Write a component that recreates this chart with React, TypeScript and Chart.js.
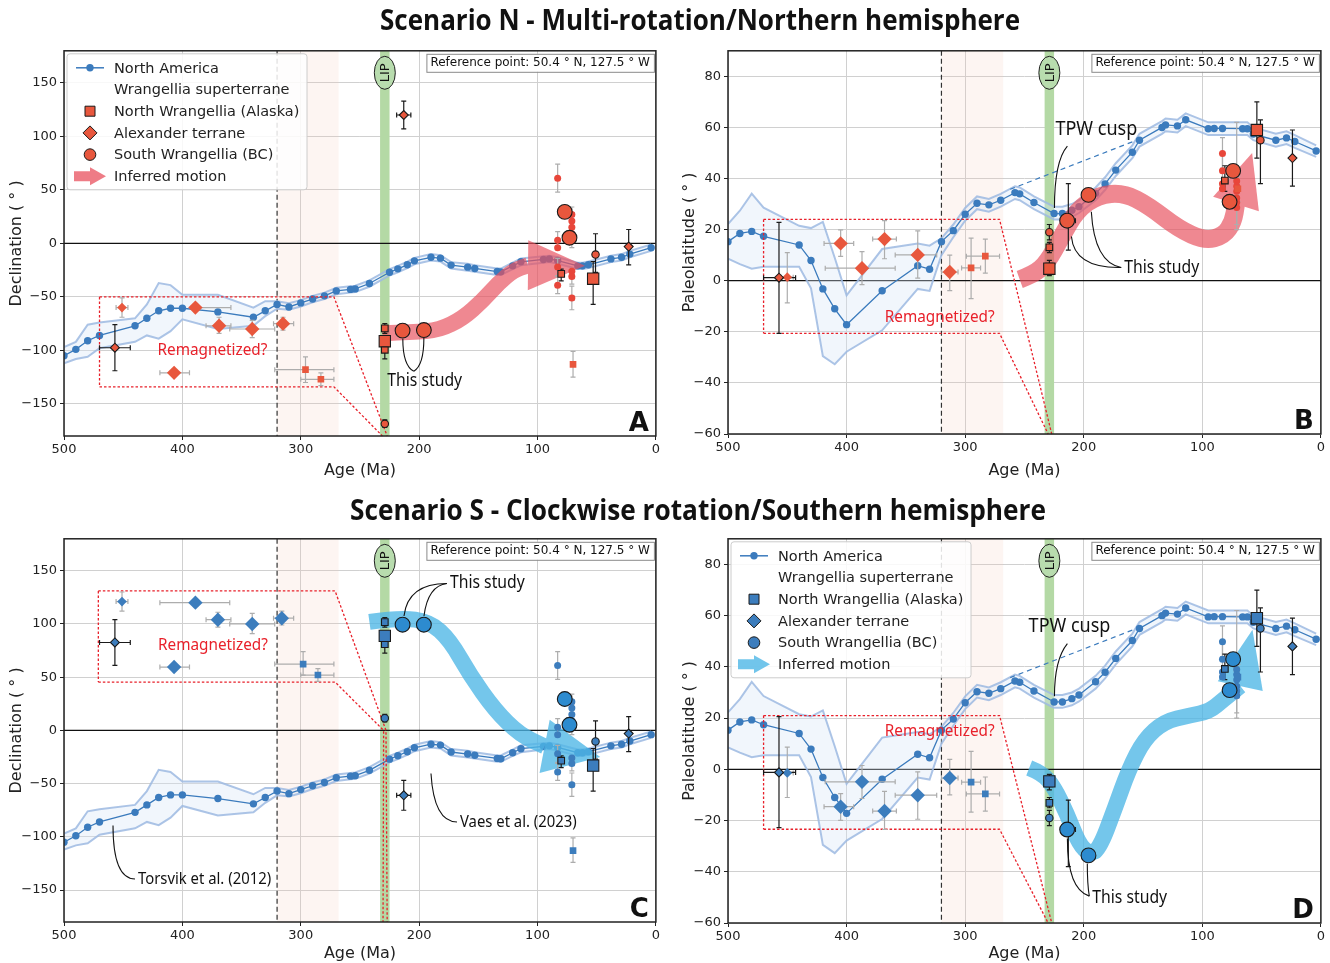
import React, { useEffect, useRef } from 'react';
import { Chart, registerables } from 'chart.js';

Chart.register(...registerables);

type Row = number[]; // [age, value, ageMin, ageMax, valueMin, valueMax]

// ---------------- North America APWP ----------------
const NA_AGE = [500, 490, 480, 470, 440, 430, 420, 410, 400, 370, 340, 330, 320, 310, 300, 290, 280, 270, 258, 254, 242, 225, 218, 210, 204, 190, 182, 173, 159, 153, 134, 131, 121, 114, 95, 90, 83, 66, 62, 57, 38, 29, 22, 4];
const NA_DEC = [-105, -99, -91, -86, -77, -70, -63, -60.6, -60.6, -64, -69, -63, -57, -59.4, -55.6, -52, -49, -44.4, -43, -42.5, -37.5, -27, -23.8, -20, -16.3, -13, -13.8, -20.3, -22.2, -23.4, -26.3, -26.6, -21, -17.2, -15, -14.5, -16, -21, -21, -20, -14.5, -13, -10, -4];
const NA_DEC_HI = [-97, -92, -76, -74, -70, -57, -37, -39, -48, -48, -60, -54, -54, -56, -53, -49, -46, -41.5, -40, -39.5, -34.5, -24, -21, -17, -13.5, -10, -11, -17.5, -19, -20.5, -23.5, -23.5, -18, -14, -12, -11.5, -13, -18, -18, -17, -11.5, -10, -7, -1];
const NA_DEC_LO = [-112, -108, -106, -98, -92, -86, -89, -82, -71, -80, -77, -68, -61, -62, -59, -55, -52, -47.5, -46, -45.5, -40.5, -30, -27, -23, -19.5, -16, -17, -23.5, -25.5, -26.5, -29.5, -29.5, -24, -20.5, -18, -17.5, -19, -24, -24, -23, -17.5, -16, -13, -7];
const NA_LAT = [15.3, 18.5, 19.3, 17.4, 14, 7.9, -3.2, -11, -17.2, -3.9, 5.9, 4.5, 15.3, 19.6, 26, 30.3, 29.7, 31.5, 34.5, 34, 30.6, 26.3, 26.3, 27.6, 29, 34.2, 37.9, 43.3, 50.3, 55, 60, 61, 60.6, 63, 59.5, 59.6, 59.6, 59.5, 59.5, 57.4, 55, 55.9, 54.5, 50.8];
const NA_LAT_HI = [22.2, 27.4, 34.1, 28.6, 21.5, 20.6, 23, 9, -5.7, 12.4, 14.6, 13.7, 16.6, 22, 28.5, 33, 32, 34, 37, 36.5, 33, 29, 29, 30, 31.5, 36.5, 40.5, 46, 53, 57.5, 62.5, 63.5, 63, 65.5, 62, 62, 62, 62, 62, 60, 57.5, 58.5, 57, 53];
const NA_LAT_LO = [8.6, 6.5, 4.7, 5.5, 5.5, -3, -29.5, -32.7, -27.8, -19.4, -3.2, -4, 10, 17, 23.5, 28, 27, 29, 32, 31.5, 28, 24, 24, 25, 26.5, 31.5, 35.5, 41, 48, 52.5, 57.5, 58.5, 58, 60.5, 57, 57, 57, 57, 57, 55, 52.5, 53.5, 52, 48.5];
const TPW_DASH_AGE = [262, 156];
const TPW_DASH_LAT = [35.8, 54.9];

const AGE_TICKS = [0, 100, 200, 300, 400, 500];
const DEC_TICKS = [-150, -100, -50, 0, 50, 100, 150];
const LAT_TICKS = [-60, -40, -20, 0, 20, 40, 60, 80];
const PINK_BAND = [320, 268];
const LIP_BAND = [233, 225];
const LIP_AGE = 229;
const BOUNDARY_AGE = 320;

// ---------------- Scenario N : declination (A) ----------------
const A_CIRCLE_LG: Row[] = [[214, -81.5], [196, -81], [77, 29.5], [73, 5.3]];
const A_SQUARE_LG: Row[] = [[229, -91.4], [53, -33, 53, 53, -57, -17]];
const A_CIRCLE_EDGE: Row[] = [[229, -168.6, 229, 229, -172, -165], [51, -10.4, 51, 51, -27, 9]];
const A_SQUARE_EDGE: Row[] = [[229, -79.4, 229, 229, -84, -75], [229, -99.4, 229, 229, -108, -94], [80, -28.5, 80, 80, -35, -24]];
const A_DIAMOND_EDGE: Row[] = [[457, -97.5, 470, 444, -119, -76], [213, 120, 219, 207, 107, 133], [23, -3, 23, 23, -20, 13]];
const A_DIAMOND_LG: Row[] = [[389, -60, 389, 359], [369, -77, 380, 359, -84, -69], [341, -80, 360, 322, -88, -72], [315, -75, 323, 306, -81, -69], [407, -121, 419, 394]];
const A_DIAMOND_SM: Row[] = [[451, -60, 456, 446, -69, -51]];
const A_SQUARE_SM: Row[] = [[296, -118, 322, 272, -130, -106], [283, -127, 300, 272, -133, -121], [70, -113, 70, 70, -125, -101]];
const A_CIRCLE_SM: Row[] = [[83, 61, 83, 83, 48, 74], [83, 3, 83, 83, -5, 11], [83, -4], [83, -22, 83, 83, -30, -14], [83, -39, 83, 83, -47, -31], [71, 27, 69, 73, 20, 34], [71, 21], [71, 15], [71, 9], [71, 3, 69, 73, -4, 10], [71, -26], [71, -31, 69, 73, -38, -24], [71, -51, 69, 73, -62, -40]];

// ---------------- Scenario N : paleolatitude (B) ----------------
const B_CIRCLE_LG: Row[] = [[214, 23.5], [196, 33.6], [77, 30.9], [74, 43]];
const B_SQUARE_LG: Row[] = [[229, 4.7], [54, 59, 54, 54, 48, 70]];
const B_CIRCLE_EDGE: Row[] = [[229, 19, 229, 229, 16, 22], [51, 55, 51, 51, 38, 63]];
const B_SQUARE_EDGE: Row[] = [[229, 13.1, 229, 229, 11, 15], [229, 5.5, 229, 229, 2, 8], [81, 39.2, 81, 81, 35, 45]];
const B_DIAMOND_EDGE: Row[] = [[457, 1.2, 470, 443, -20.6, 22.8], [213, 23.5, 219, 207, 12, 38], [24, 48, 24, 24, 37, 59]];
const B_DIAMOND_LG: Row[] = [[405, 14.6, 419, 394, 9.5, 19.9], [387, 4.9, 418, 359, -1.5, 11.4], [368, 16.3, 378, 358, 8.6, 23.5], [340, 10.1, 359, 324, 1, 19.5], [313, 3.4, 320, 306, -3.9, 10]];
const B_DIAMOND_SM: Row[] = [[450, 1.4, 455, 445, -8.7, 11]];
const B_SQUARE_SM: Row[] = [[295, 5, 303, 287, -7, 16.7], [283, 9.6, 299, 271, 3, 16.3], [70, 36, 70, 70, 31, 41]];
const B_CIRCLE_SM: Row[] = [[83, 49.8, 83, 83, 44, 56], [83, 43, 83, 83, 36, 50], [83, 38], [83, 36], [71, 39, 69, 73, 20, 62], [71, 37], [71, 35], [71, 32.4], [71, 30.6], [71, 28.7, 69, 73, 22, 36]];

// ---------------- Scenario S : declination (C) ----------------
const C_CIRCLE_LG: Row[] = [[214, 99.3], [196, 99.3], [77, 29.5], [73, 5.3]];
const C_SQUARE_LG: Row[] = [[229, 88.8], [53, -33, 53, 53, -57, -17]];
const C_CIRCLE_EDGE: Row[] = [[229, 11.4, 229, 229, 8, 15], [51, -10.4, 51, 51, -27, 9]];
const C_SQUARE_EDGE: Row[] = [[229, 101.7, 229, 229, 97, 106], [229, 81, 229, 229, 72.6, 86], [80, -28.5, 80, 80, -35, -24]];
const C_DIAMOND_EDGE: Row[] = [[457, 82.6, 470, 444, 61, 104], [213, -61, 219, 207, -75, -47], [23, -3, 23, 23, -20, 13]];
const C_DIAMOND_LG: Row[] = [[389, 120, 419, 360], [370, 104, 380, 359, 97, 111], [341, 100, 360, 322, 91, 110], [316, 105.4, 323, 306, 99, 112], [407, 59.5, 419, 394]];
const C_DIAMOND_SM: Row[] = [[451, 121, 456, 446, 112, 130]];
const C_SQUARE_SM: Row[] = [[298, 62.3, 322, 272, 52, 74], [285.5, 52, 300, 272, 46, 58], [70, -113, 70, 70, -124, -101]];
const C_CIRCLE_SM: Row[] = [[83, 61, 83, 83, 48, 74], [83, 3, 83, 83, -5, 11], [83, -4], [83, -22, 83, 83, -30, -14], [83, -39, 83, 83, -47, -31], [71, 27, 69, 73, 20, 34], [71, 21], [71, 15], [71, 9], [71, 3, 69, 73, -4, 10], [71, -26], [71, -31, 69, 73, -38, -24], [71, -51, 69, 73, -62, -40]];

// ---------------- Scenario S : paleolatitude (D) ----------------
const D_CIRCLE_LG: Row[] = [[214, -23.5], [196, -33.6], [77, 30.9], [74, 43]];
const D_SQUARE_LG: Row[] = [[229, -4.7], [54, 59, 54, 54, 48, 70]];
const D_CIRCLE_EDGE: Row[] = [[229, -19, 229, 229, -22, -16], [51, 55, 51, 51, 38, 63]];
const D_SQUARE_EDGE: Row[] = [[229, -13.1, 229, 229, -15, -11], [229, -5.5, 229, 229, -8, -2], [81, 39.2, 81, 81, 35, 45]];
const D_DIAMOND_EDGE: Row[] = [[457, -1.2, 470, 443, -22.8, 20.6], [213, -23.5, 219, 207, -38, -12], [24, 48, 24, 24, 37, 59]];
const D_DIAMOND_LG: Row[] = [[405, -14.6, 419, 394, -19.9, -9.5], [387, -4.9, 418, 359, -11.4, 1.5], [368, -16.3, 378, 358, -23.5, -8.6], [340, -10.1, 359, 324, -19.5, -1], [313, -3.4, 320, 306, -10, 3.9]];
const D_DIAMOND_SM: Row[] = [[450, -1.4, 455, 445, -11, 8.7]];
const D_SQUARE_SM: Row[] = [[295, -5, 303, 287, -16.7, 7], [283, -9.6, 299, 271, -16.3, -3], [70, 36, 70, 70, 31, 41]];
const D_CIRCLE_SM: Row[] = [[83, 49.8, 83, 83, 44, 56], [83, 43, 83, 83, 36, 50], [83, 38], [83, 36], [71, 39, 69, 73, 20, 62], [71, 37], [71, 35], [71, 32.4], [71, 30.6], [71, 28.7, 69, 73, 22, 36]];

// ---------------- Inferred motion paths ----------------
const ARROW_A_AGE = [231, 205, 183, 163, 146, 133, 120, 108];
const ARROW_A_VAL = [-84, -83, -81, -70, -53, -37, -25, -20.5];
const ARROW_A_TIP = [60, -21];
const ARROW_B_AGE = [254, 242, 231, 219, 206, 188, 166, 145, 120, 98, 82, 74, 71.6];
const ARROW_B_VAL = [0.5, 2.5, 7, 17, 27.5, 33.5, 34.4, 29.3, 20.3, 15.7, 17.6, 23, 30];
const ARROW_B_TIP = [58, 50];
const ARROW_C_AGE = [242, 216, 191, 174, 157, 136, 115, 94];
const ARROW_C_VAL = [102, 106, 102, 85, 52, 19, -4, -15];
const ARROW_C_TIP = [47, -25];
const ARROW_D_AGE = [246, 235, 225, 214, 204, 195, 187, 174, 162, 149, 132, 111, 94, 82, 68];
const ARROW_D_VAL = [0.5, -1.5, -7, -17.5, -29.2, -33.1, -31.2, -15.6, 0, 11.7, 18.7, 21, 22.6, 27.3, 32.5];
const ARROW_D_TIP = [57.7, 54.5];

const LEGEND_LABELS = ['North America', 'Wrangellia superterrane', 'North Wrangellia (Alaska)', 'Alexander terrane', 'South Wrangellia (BC)', 'Inferred motion'];
const TITLE_N = 'Scenario N - Multi-rotation/Northern hemisphere';
const TITLE_S = 'Scenario S - Clockwise rotation/Southern hemisphere';
const REF_TEXT = 'Reference point: 50.4 \u00b0 N, 127.5 \u00b0 W';

// ---------------- styles ----------------
const NA_COLOR = '#3b7bbd';
const BAND_EDGE = 'rgba(158,186,226,0.85)';
const BAND_FILL = 'rgba(214,228,246,0.35)';
const RED = '#e8573d';
const RED_YOUNG = '#e8463a';
const BLUE = '#3c7dbd';
const BLUE_BIG = '#2d8bcf';
const REMAG = '#e8202a';
const TICK_FONT = "'DejaVu Sans', sans-serif";
const ANNOT_FONT = "'Noto Sans', sans-serif";

const fmt = (v: number) => (v < 0 ? '\u2212' + Math.abs(v) : String(v));

function makeGroups(s: any, fill: string, young: string, big: string) {
  return [
    { rows: s.cirLg, shape: 'circle', r: 7.4, fill: big, edge: true },
    { rows: s.sqLg, shape: 'rect', r: 8, fill, edge: true },
    { rows: s.cirEdge, shape: 'circle', r: 3.7, fill, edge: true },
    { rows: s.sqEdge, shape: 'rect', r: 4.7, fill, edge: true },
    { rows: s.diaEdge, shape: 'rectRot', r: 4.5, fill, edge: true },
    { rows: s.diaLg, shape: 'rectRot', r: 7.2, fill, edge: false },
    { rows: s.diaSm, shape: 'rectRot', r: 4.8, fill, edge: false },
    { rows: s.sqSm, shape: 'rect', r: 4.7, fill, edge: false },
    { rows: s.cirSm, shape: 'circle', r: 3.5, fill: young, edge: false },
  ];
}

const PANELS: any[] = [
  {
    id: 'A', left: 0, top: 40, width: 665, height: 440, padTop: 10, padRight: 7, yWidth: 64, xHeight: 44, yTitlePad: 7,
    yMin: -180, yMax: 180, yTicks: DEC_TICKS, yTitle: 'Declination ( \u00b0 )', na: NA_DEC, naHi: NA_DEC_HI, naLo: NA_DEC_LO, dashed: false,
    groups: makeGroups({ cirLg: A_CIRCLE_LG, sqLg: A_SQUARE_LG, cirEdge: A_CIRCLE_EDGE, sqEdge: A_SQUARE_EDGE, diaEdge: A_DIAMOND_EDGE, diaLg: A_DIAMOND_LG, diaSm: A_DIAMOND_SM, sqSm: A_SQUARE_SM, cirSm: A_CIRCLE_SM }, RED, RED_YOUNG, RED),
    arrow: { ages: ARROW_A_AGE, vals: ARROW_A_VAL, tip: ARROW_A_TIP, shaftW: 16, headW: 50, color: '#e8505e', alpha: 0.68 },
    box: [[[470, -50], [272, -50], [227, -180]], [[470, -134], [272, -134], [231, -180]], [[470, -50], [470, -134]]],
    letter: 'A', legend: 'N',
    texts: [
      { t: 'This study', a: 195.3, v: -128.7, align: 'center', size: 17.5, color: '#111' },
      { t: 'Remagnetized?', a: 374.6, v: -99.8, align: 'center', size: 17, color: REMAG },
    ],
    leaders: [[[213.8, -89], [213.8, -114], [204.5, -119.5]], [[196, -88.5], [196, -114], [204.5, -119.5]]],
  },
  {
    id: 'B', left: 665, top: 40, width: 665, height: 440, padTop: 9, padRight: 8, yWidth: 63, xHeight: 46, yTitlePad: 15,
    yMin: -60, yMax: 90, yTicks: LAT_TICKS, yTitle: 'Paleolatitude ( \u00b0 )', na: NA_LAT, naHi: NA_LAT_HI, naLo: NA_LAT_LO, dashed: true,
    groups: makeGroups({ cirLg: B_CIRCLE_LG, sqLg: B_SQUARE_LG, cirEdge: B_CIRCLE_EDGE, sqEdge: B_SQUARE_EDGE, diaEdge: B_DIAMOND_EDGE, diaLg: B_DIAMOND_LG, diaSm: B_DIAMOND_SM, sqSm: B_SQUARE_SM, cirSm: B_CIRCLE_SM }, RED, RED_YOUNG, RED),
    arrow: { ages: ARROW_B_AGE, vals: ARROW_B_VAL, tip: ARROW_B_TIP, shaftW: 18, headW: 48, color: '#e8505e', alpha: 0.68 },
    box: [[[470, 24], [271, 24], [227, -60]], [[470, -20.6], [271, -20.6], [230, -60]], [[470, 24], [470, -20.6]]],
    letter: 'B', legend: null,
    texts: [
      { t: 'TPW cusp', a: 189.4, v: 59.3, align: 'center', size: 20, color: '#111' },
      { t: 'This study', a: 165.8, v: 4.8, align: 'left', size: 17.5, color: '#111' },
      { t: 'Remagnetized?', a: 321.5, v: -14.3, align: 'center', size: 17, color: REMAG },
    ],
    leaders: [[[213.8, 52.7], [224.7, 46.9], [224.7, 28.5]], [[168.4, 5.2], [207.9, 4.8], [210.4, 17.3]], [[168.4, 5.2], [191.1, 7.1], [193.6, 27]]],
  },
  {
    id: 'C', left: 0, top: 528, width: 665, height: 435, padTop: 10, padRight: 9, yWidth: 64, xHeight: 41, yTitlePad: 7,
    yMin: -180, yMax: 180, yTicks: DEC_TICKS, yTitle: 'Declination ( \u00b0 )', na: NA_DEC, naHi: NA_DEC_HI, naLo: NA_DEC_LO, dashed: false,
    groups: makeGroups({ cirLg: C_CIRCLE_LG, sqLg: C_SQUARE_LG, cirEdge: C_CIRCLE_EDGE, sqEdge: C_SQUARE_EDGE, diaEdge: C_DIAMOND_EDGE, diaLg: C_DIAMOND_LG, diaSm: C_DIAMOND_SM, sqSm: C_SQUARE_SM, cirSm: C_CIRCLE_SM }, BLUE, BLUE, BLUE_BIG),
    arrow: { ages: ARROW_C_AGE, vals: ARROW_C_VAL, tip: ARROW_C_TIP, shaftW: 16, headW: 54, color: '#4db6e6', alpha: 0.78 },
    box: [[[471, 131], [271, 131], [228, 0], [227, -180]], [[471, 45.4], [271, 45.4], [230, 0], [230.5, -180]], [[471, 131], [471, 45.4]]],
    letter: 'C', legend: null,
    texts: [
      { t: 'This study', a: 174, v: 138, align: 'left', size: 17.5, color: '#111' },
      { t: 'Vaes et al. (2023)', a: 165.5, v: -86, align: 'left', size: 16.5, color: '#111' },
      { t: 'Torsvik et al. (2012)', a: 437.5, v: -139.6, align: 'left', size: 16.5, color: '#111' },
      { t: 'Remagnetized?', a: 374.2, v: 80.3, align: 'center', size: 17, color: REMAG },
    ],
    leaders: [[[176.5, 138], [209.5, 138], [212.8, 107.5]], [[176.5, 138], [192.6, 136], [195.9, 107.5]], [[168, -86], [187.5, -86], [190, -40.5]], [[440, -139.6], [458.6, -139.6], [458.6, -89.4]]],
  },
  {
    id: 'D', left: 665, top: 528, width: 665, height: 435, padTop: 10, padRight: 8, yWidth: 63, xHeight: 40, yTitlePad: 15,
    yMin: -60, yMax: 90, yTicks: LAT_TICKS, yTitle: 'Paleolatitude ( \u00b0 )', na: NA_LAT, naHi: NA_LAT_HI, naLo: NA_LAT_LO, dashed: true,
    groups: makeGroups({ cirLg: D_CIRCLE_LG, sqLg: D_SQUARE_LG, cirEdge: D_CIRCLE_EDGE, sqEdge: D_SQUARE_EDGE, diaEdge: D_DIAMOND_EDGE, diaLg: D_DIAMOND_LG, diaSm: D_DIAMOND_SM, sqSm: D_SQUARE_SM, cirSm: D_CIRCLE_SM }, BLUE, BLUE, BLUE_BIG),
    arrow: { ages: ARROW_D_AGE, vals: ARROW_D_VAL, tip: ARROW_D_TIP, shaftW: 16, headW: 46, color: '#4db6e6', alpha: 0.78 },
    box: [[[470, 21], [271, 21], [227, -60]], [[470, -23.4], [271, -23.4], [230, -60]], [[470, 21], [470, -23.4]]],
    letter: 'D', legend: 'S',
    texts: [
      { t: 'TPW cusp', a: 212, v: 55.7, align: 'center', size: 20, color: '#111' },
      { t: 'This study', a: 192.8, v: -50.3, align: 'left', size: 17.5, color: '#111' },
      { t: 'Remagnetized?', a: 321.5, v: 15, align: 'center', size: 17, color: REMAG },
    ],
    leaders: [[[213.8, 49.1], [224.7, 42.9], [224.7, 28.5]], [[195.3, -49.5], [213.8, -46.8], [213.8, -27]], [[195.3, -49.5], [197, -45], [197, -36.8]]],
  },
];

// ---------------- drawing helpers ----------------
function P(chart: any, a: number, v: number): [number, number] {
  return [chart.scales.x.getPixelForValue(a), chart.scales.y.getPixelForValue(v)];
}

function smoothPath(ctx: CanvasRenderingContext2D, pts: number[][]) {
  ctx.moveTo(pts[0][0], pts[0][1]);
  for (let i = 1; i < pts.length - 1; i++) {
    const mx = (pts[i][0] + pts[i + 1][0]) / 2;
    const my = (pts[i][1] + pts[i + 1][1]) / 2;
    ctx.quadraticCurveTo(pts[i][0], pts[i][1], mx, my);
  }
  const l = pts[pts.length - 1];
  ctx.lineTo(l[0], l[1]);
}

function condText(ctx: any, text: string, x: number, y: number, size: number, color: string, align: string, sx = 0.9) {
  ctx.save();
  ctx.font = `${size}px ${ANNOT_FONT}`;
  ctx.fillStyle = color;
  ctx.textAlign = align;
  ctx.textBaseline = 'middle';
  ctx.translate(x, y);
  ctx.scale(sx, 1);
  ctx.fillText(text, 0, 0);
  ctx.restore();
}

function drawShape(ctx: any, kind: string, x: number, y: number, r: number, fill: string, stroke: string | null) {
  ctx.beginPath();
  if (kind === 'circle') ctx.arc(x, y, r, 0, Math.PI * 2);
  else if (kind === 'rect') ctx.rect(x - r, y - r, 2 * r, 2 * r);
  else {
    ctx.moveTo(x - r, y);
    ctx.lineTo(x, y - r);
    ctx.lineTo(x + r, y);
    ctx.lineTo(x, y + r);
    ctx.closePath();
  }
  ctx.fillStyle = fill;
  ctx.fill();
  if (stroke) {
    ctx.strokeStyle = stroke;
    ctx.lineWidth = 1;
    ctx.stroke();
  }
}

function drawArrow(chart: any, ar: any) {
  const off = document.createElement('canvas');
  off.width = chart.canvas.width;
  off.height = chart.canvas.height;
  const o = off.getContext('2d') as CanvasRenderingContext2D;
  const pts = ar.ages.map((a: number, i: number) => P(chart, a, ar.vals[i]));
  o.strokeStyle = ar.color;
  o.lineWidth = ar.shaftW;
  o.lineCap = 'butt';
  o.lineJoin = 'round';
  o.beginPath();
  smoothPath(o, pts);
  o.stroke();
  const base = pts[pts.length - 1];
  const tip = P(chart, ar.tip[0], ar.tip[1]);
  const dx = tip[0] - base[0];
  const dy = tip[1] - base[1];
  const L = Math.hypot(dx, dy);
  const nx = -dy / L;
  const ny = dx / L;
  const hw = ar.headW / 2;
  o.fillStyle = ar.color;
  o.beginPath();
  o.moveTo(base[0] + nx * hw, base[1] + ny * hw);
  o.lineTo(tip[0], tip[1]);
  o.lineTo(base[0] - nx * hw, base[1] - ny * hw);
  o.closePath();
  o.fill();
  const ctx = chart.ctx;
  ctx.save();
  ctx.setTransform(1, 0, 0, 1, 0, 0);
  ctx.globalAlpha = ar.alpha;
  ctx.drawImage(off, 0, 0);
  ctx.restore();
}

function drawErrors(chart: any, rows: Row[], color: string) {
  const ctx = chart.ctx;
  const xs = chart.scales.x;
  const ys = chart.scales.y;
  ctx.save();
  ctx.strokeStyle = color;
  ctx.lineWidth = 1.2;
  const cap = 2.5;
  rows.forEach((r) => {
    const x = xs.getPixelForValue(r[0]);
    const y = ys.getPixelForValue(r[1]);
    const a0 = r[2] ?? r[0];
    const a1 = r[3] ?? r[0];
    const v0 = r[4] ?? r[1];
    const v1 = r[5] ?? r[1];
    ctx.beginPath();
    if (a0 !== a1) {
      const x1 = xs.getPixelForValue(a0);
      const x2 = xs.getPixelForValue(a1);
      ctx.moveTo(x1, y); ctx.lineTo(x2, y);
      ctx.moveTo(x1, y - cap); ctx.lineTo(x1, y + cap);
      ctx.moveTo(x2, y - cap); ctx.lineTo(x2, y + cap);
    }
    if (v0 !== v1) {
      const y1 = ys.getPixelForValue(v0);
      const y2 = ys.getPixelForValue(v1);
      ctx.moveTo(x, y1); ctx.lineTo(x, y2);
      ctx.moveTo(x - cap, y1); ctx.lineTo(x + cap, y1);
      ctx.moveTo(x - cap, y2); ctx.lineTo(x + cap, y2);
    }
    ctx.stroke();
  });
  ctx.restore();
}

function drawLegend(ctx: any, ca: any, scen: string) {
  const x0 = ca.left + 3;
  const y0 = ca.top + 3;
  const w = 240;
  const h = 136;
  const mk = scen === 'N' ? RED : BLUE;
  const arrowCol = scen === 'N' ? 'rgba(232,80,94,0.75)' : 'rgba(77,182,230,0.8)';
  ctx.save();
  ctx.beginPath();
  ctx.roundRect(x0, y0, w, h, 3);
  ctx.fillStyle = 'rgba(255,255,255,0.85)';
  ctx.fill();
  ctx.strokeStyle = '#cccccc';
  ctx.lineWidth = 1;
  ctx.stroke();
  const rowY = (i: number) => y0 + 14 + i * 21.7;
  const sx = x0 + 23;
  ctx.strokeStyle = NA_COLOR;
  ctx.lineWidth = 1.5;
  ctx.beginPath();
  ctx.moveTo(sx - 14, rowY(0));
  ctx.lineTo(sx + 14, rowY(0));
  ctx.stroke();
  drawShape(ctx, 'circle', sx, rowY(0), 3.7, NA_COLOR, null);
  drawShape(ctx, 'rect', sx, rowY(2), 5, mk, '#1a1a1a');
  drawShape(ctx, 'diamond', sx, rowY(3), 7, mk, '#1a1a1a');
  drawShape(ctx, 'circle', sx, rowY(4), 5.8, mk, '#1a1a1a');
  const ay = rowY(5);
  ctx.fillStyle = arrowCol;
  ctx.beginPath();
  ctx.moveTo(x0 + 7, ay - 5);
  ctx.lineTo(x0 + 23, ay - 5);
  ctx.lineTo(x0 + 23, ay - 9);
  ctx.lineTo(x0 + 39, ay);
  ctx.lineTo(x0 + 23, ay + 9);
  ctx.lineTo(x0 + 23, ay + 5);
  ctx.lineTo(x0 + 7, ay + 5);
  ctx.closePath();
  ctx.fill();
  ctx.fillStyle = '#222';
  ctx.font = `14.5px ${TICK_FONT}`;
  ctx.textAlign = 'left';
  ctx.textBaseline = 'middle';
  LEGEND_LABELS.forEach((t, i) => ctx.fillText(t, x0 + 47, rowY(i) + 1));
  ctx.restore();
}

function makePlugin(cfg: any) {
  return {
    id: 'deco' + cfg.id,
    beforeDatasetsDraw(chart: any) {
      const ctx = chart.ctx;
      const ca = chart.chartArea;
      const xs = chart.scales.x;
      const ys = chart.scales.y;
      ctx.save();
      ctx.beginPath();
      ctx.rect(ca.left, ca.top, ca.right - ca.left, ca.bottom - ca.top);
      ctx.clip();
      const p1 = xs.getPixelForValue(PINK_BAND[0]);
      const p2 = xs.getPixelForValue(PINK_BAND[1]);
      ctx.fillStyle = 'rgba(245,200,185,0.18)';
      ctx.fillRect(p1, ca.top, p2 - p1, ca.bottom - ca.top);
      const l1 = xs.getPixelForValue(LIP_BAND[0]);
      const l2 = xs.getPixelForValue(LIP_BAND[1]);
      ctx.fillStyle = '#b4d9a5';
      ctx.fillRect(l1, ca.top, l2 - l1, ca.bottom - ca.top);
      const d = xs.getPixelForValue(BOUNDARY_AGE);
      ctx.strokeStyle = '#333';
      ctx.lineWidth = 1.2;
      ctx.setLineDash([5, 3]);
      ctx.beginPath();
      ctx.moveTo(d, ca.top);
      ctx.lineTo(d, ca.bottom);
      ctx.stroke();
      ctx.setLineDash([]);
      const z = ys.getPixelForValue(0);
      ctx.strokeStyle = '#111';
      ctx.lineWidth = 1.2;
      ctx.beginPath();
      ctx.moveTo(ca.left, z);
      ctx.lineTo(ca.right, z);
      ctx.stroke();
      ctx.restore();
    },
    afterDatasetDraw(chart: any, args: any) {
      if (!chart.data.datasets[args.index].isNA) return;
      const ctx = chart.ctx;
      ctx.save();
      ctx.strokeStyle = REMAG;
      ctx.lineWidth = 1.3;
      ctx.setLineDash([2.5, 2]);
      cfg.box.forEach((line: number[][]) => {
        ctx.beginPath();
        line.forEach((p, i) => {
          const q = P(chart, p[0], p[1]);
          if (i === 0) ctx.moveTo(q[0], q[1]);
          else ctx.lineTo(q[0], q[1]);
        });
        ctx.stroke();
      });
      ctx.restore();
      drawArrow(chart, cfg.arrow);
      cfg.groups.filter((g: any) => !g.edge).forEach((g: any) => drawErrors(chart, g.rows, '#adadad'));
      cfg.groups.filter((g: any) => g.edge).forEach((g: any) => drawErrors(chart, g.rows, '#1a1a1a'));
    },
    afterDatasetsDraw(chart: any) {
      const ctx = chart.ctx;
      const ca = chart.chartArea;
      ctx.save();
      ctx.strokeStyle = '#111';
      ctx.lineWidth = 1.1;
      cfg.leaders.forEach((l: number[][]) => {
        const a = P(chart, l[0][0], l[0][1]);
        const c = P(chart, l[1][0], l[1][1]);
        const b = P(chart, l[2][0], l[2][1]);
        ctx.beginPath();
        ctx.moveTo(a[0], a[1]);
        ctx.quadraticCurveTo(c[0], c[1], b[0], b[1]);
        ctx.stroke();
      });
      ctx.restore();
      cfg.texts.forEach((t: any) => {
        const q = P(chart, t.a, t.v);
        condText(ctx, t.t, q[0], q[1], t.size, t.color, t.align);
      });
      const lx = chart.scales.x.getPixelForValue(LIP_AGE);
      const ly = ca.top + 22;
      ctx.save();
      ctx.beginPath();
      ctx.ellipse(lx, ly, 10.5, 16.5, 0, 0, Math.PI * 2);
      ctx.fillStyle = '#b8dcae';
      ctx.fill();
      ctx.strokeStyle = '#222';
      ctx.lineWidth = 1;
      ctx.stroke();
      ctx.translate(lx, ly);
      ctx.rotate(-Math.PI / 2);
      ctx.fillStyle = '#111';
      ctx.font = `13px ${TICK_FONT}`;
      ctx.textAlign = 'center';
      ctx.textBaseline = 'middle';
      ctx.fillText('LIP', 0, 1);
      ctx.restore();
      ctx.save();
      ctx.font = `12px ${TICK_FONT}`;
      const tw = ctx.measureText(REF_TEXT).width;
      const bw = tw + 8;
      const bx = ca.right - 2 - bw;
      const by = ca.top + 3;
      ctx.fillStyle = '#fff';
      ctx.fillRect(bx, by, bw, 18);
      ctx.strokeStyle = '#8a8a8a';
      ctx.lineWidth = 1;
      ctx.strokeRect(bx + 0.5, by + 0.5, bw, 18);
      ctx.fillStyle = '#111';
      ctx.textAlign = 'left';
      ctx.textBaseline = 'middle';
      ctx.fillText(REF_TEXT, bx + 4, by + 9.5);
      ctx.restore();
      if (cfg.legend) drawLegend(ctx, ca, cfg.legend);
      ctx.save();
      ctx.font = `bold 26px ${TICK_FONT}`;
      ctx.fillStyle = '#111';
      ctx.textAlign = 'right';
      ctx.textBaseline = 'alphabetic';
      ctx.fillText(cfg.letter, ca.right - 7, ca.bottom - 5);
      ctx.restore();
      ctx.save();
      ctx.strokeStyle = '#222';
      ctx.lineWidth = 1.5;
      ctx.strokeRect(ca.left, ca.top, ca.right - ca.left, ca.bottom - ca.top);
      ctx.restore();
    },
  };
}

function buildConfig(cfg: any) {
  const datasets: any[] = [];
  cfg.groups.forEach((g: any) => {
    datasets.push({
      showLine: false,
      data: g.rows.map((r: Row) => ({ x: r[0], y: r[1] })),
      pointStyle: g.shape,
      pointRadius: g.r,
      pointHoverRadius: g.r,
      pointBackgroundColor: g.fill,
      pointBorderColor: g.edge ? '#1a1a1a' : g.fill,
      pointBorderWidth: g.edge ? 1.1 : 0,
    });
  });
  if (cfg.dashed) {
    datasets.push({
      showLine: true,
      data: TPW_DASH_AGE.map((a, i) => ({ x: a, y: TPW_DASH_LAT[i] })),
      borderColor: NA_COLOR,
      borderWidth: 1.2,
      borderDash: [5, 4],
      pointRadius: 0,
      fill: false,
    });
  }
  datasets.push({
    isNA: true,
    showLine: true,
    data: NA_AGE.map((a, i) => ({ x: a, y: cfg.na[i] })),
    borderColor: NA_COLOR,
    borderWidth: 1.3,
    pointRadius: 3.7,
    pointBackgroundColor: NA_COLOR,
    pointBorderWidth: 0,
    fill: false,
  });
  datasets.push({
    showLine: true,
    data: NA_AGE.map((a, i) => ({ x: a, y: cfg.naHi[i] })),
    borderColor: BAND_EDGE,
    borderWidth: 2,
    pointRadius: 0,
    fill: false,
  });
  datasets.push({
    showLine: true,
    data: NA_AGE.map((a, i) => ({ x: a, y: cfg.naLo[i] })),
    borderColor: BAND_EDGE,
    borderWidth: 2,
    pointRadius: 0,
    fill: '-1',
    backgroundColor: BAND_FILL,
  });

  const tickFont = { family: TICK_FONT, size: 13 };
  return {
    type: 'line',
    data: { datasets },
    plugins: [makePlugin(cfg)],
    options: {
      animation: false,
      responsive: false,
      maintainAspectRatio: false,
      events: [],
      layout: { padding: { left: 0, right: cfg.padRight, top: cfg.padTop, bottom: 0 } },
      elements: { line: { tension: 0 } },
      plugins: { legend: { display: false }, tooltip: { enabled: false } },
      scales: {
        x: {
          type: 'linear',
          reverse: true,
          min: 0,
          max: 500,
          afterBuildTicks: (s: any) => { s.ticks = AGE_TICKS.map((v) => ({ value: v })); },
          afterFit: (s: any) => { s.height = cfg.xHeight; },
          ticks: { font: tickFont, color: '#222', padding: 2, maxRotation: 0, autoSkip: false, callback: (v: any) => fmt(Number(v)) },
          grid: { color: '#d0d0d0', lineWidth: 1, drawTicks: true, tickLength: 4, tickColor: '#222', tickWidth: 1 },
          border: { display: false },
          title: { display: true, text: 'Age (Ma)', color: '#222', font: { family: TICK_FONT, size: 16 }, padding: { top: 0, bottom: 0 } },
        },
        y: {
          type: 'linear',
          min: cfg.yMin,
          max: cfg.yMax,
          afterBuildTicks: (s: any) => { s.ticks = cfg.yTicks.map((v: number) => ({ value: v })); },
          afterFit: (s: any) => { s.width = cfg.yWidth; },
          ticks: { font: tickFont, color: '#222', padding: 3, autoSkip: false, callback: (v: any) => fmt(Number(v)) },
          grid: { color: '#d0d0d0', lineWidth: 1, drawTicks: true, tickLength: 4, tickColor: '#222', tickWidth: 1 },
          border: { display: false },
          title: { display: true, text: cfg.yTitle, color: '#222', font: { family: TICK_FONT, size: 16 }, padding: { top: cfg.yTitlePad, bottom: cfg.yTitlePad } },
        },
      },
    },
  };
}

function Panel({ cfg }: { cfg: any }) {
  const ref = useRef<HTMLCanvasElement>(null);
  useEffect(() => {
    const chart = new Chart(ref.current as HTMLCanvasElement, buildConfig(cfg) as any);
    return () => chart.destroy();
  }, [cfg]);
  return (
    <canvas
      ref={ref}
      width={cfg.width}
      height={cfg.height}
      style={{ position: 'absolute', left: cfg.left, top: cfg.top, width: cfg.width, height: cfg.height }}
    />
  );
}

function TitleLayer() {
  const ref = useRef<HTMLCanvasElement>(null);
  useEffect(() => {
    const c = ref.current as HTMLCanvasElement;
    const ctx = c.getContext('2d') as CanvasRenderingContext2D;
    ctx.clearRect(0, 0, c.width, c.height);
    const draw = (t: string, cx: number, cy: number, target: number) => {
      ctx.save();
      ctx.font = "bold 28px 'Open Sans', sans-serif";
      const w = ctx.measureText(t).width;
      ctx.translate(cx, cy);
      ctx.scale(target / w, 1);
      ctx.fillStyle = '#111';
      ctx.textAlign = 'center';
      ctx.textBaseline = 'middle';
      ctx.fillText(t, 0, 0);
      ctx.restore();
    };
    draw(TITLE_N, 700, 22, 640);
    draw(TITLE_S, 698, 512, 696);
  }, []);
  return <canvas ref={ref} width={1330} height={963} style={{ position: 'absolute', left: 0, top: 0, width: 1330, height: 963 }} />;
}

export default function App() {
  return (
    <div style={{ position: 'absolute', left: 0, top: 0, width: 1330, height: 963, background: '#fff', overflow: 'hidden' }}>
      <TitleLayer />
      {PANELS.map((p) => (
        <Panel key={p.id} cfg={p} />
      ))}
    </div>
  );
}
